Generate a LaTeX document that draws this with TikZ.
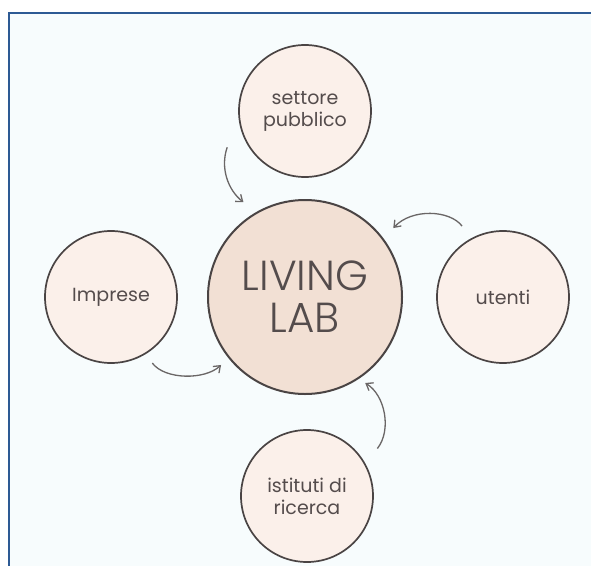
\documentclass[tikz,border=0pt]{standalone}
\usepackage{fontspec}
\setmainfont{Poppins}
\newfontfamily\lightfont{Poppins Light}
\usetikzlibrary{arrows.meta,calc}
\definecolor{framebg}{HTML}{F7FCFD}
\definecolor{frameline}{HTML}{2D5A94}
\definecolor{smallfill}{HTML}{FBF0EA}
\definecolor{bigfill}{HTML}{F2E0D4}
\definecolor{rim}{HTML}{4A4444}
\definecolor{txt}{HTML}{544C4C}
\definecolor{arr}{HTML}{6A6666}
\tikzset{
  px/.style={x=1pt,y=-1pt},
  smallc/.style={circle,draw=rim,line width=1.7pt,fill=smallfill,minimum size=132pt,inner sep=0pt,
    text=txt,font=\fontsize{19}{22}\selectfont,align=center},
  bigc/.style={circle,draw=rim,line width=2pt,fill=bigfill,minimum size=194pt,inner sep=0pt,
    text=txt,font=\lightfont\fontsize{42}{42}\selectfont,align=center},
  link/.style={draw=arr,line width=1.3pt,-{Straight Barb[length=6pt,width=9pt,line width=1.3pt]}}
}
\begin{document}
\begin{tikzpicture}[px]
\useasboundingbox (0,0) rectangle (591,565);
\fill[white] (0,0) rectangle (591,565);
\fill[framebg] (9,13) rectangle (595,570);
\draw[frameline,line width=2.5pt] (9,570) -- (9,13) -- (595,13);

\node[bigc] (lab) at (305,297) {LIVING\\LAB};
\node[smallc] (pub) at (305,111) {settore\\pubblico};
\node[smallc] (imp) at (111,297) {Imprese};
\node[smallc] (ute) at (503,297) {utenti};
\node[smallc] (ist) at (307,496) {istituti di\\ricerca};

\draw[link] ($(pub.205)!-19pt!(pub.center)$) .. controls (220,168) and (228,190) .. ($(lab.123)!-15pt!(lab.center)$);
\draw[link] ($(ute.120)!-15pt!(ute.center)$) .. controls (450,210) and (412,208) .. ($(lab.38)!-14pt!(lab.center)$);
\draw[link] ($(imp.-58)!-11pt!(imp.center)$) .. controls (165,380) and (205,380) .. ($(lab.219)!-10pt!(lab.center)$);
\draw[link] ($(ist.34)!-18pt!(ist.center)$) .. controls (392,430) and (385,395) .. ($(lab.-55)!-7pt!(lab.center)$);
\end{tikzpicture}
\end{document}
